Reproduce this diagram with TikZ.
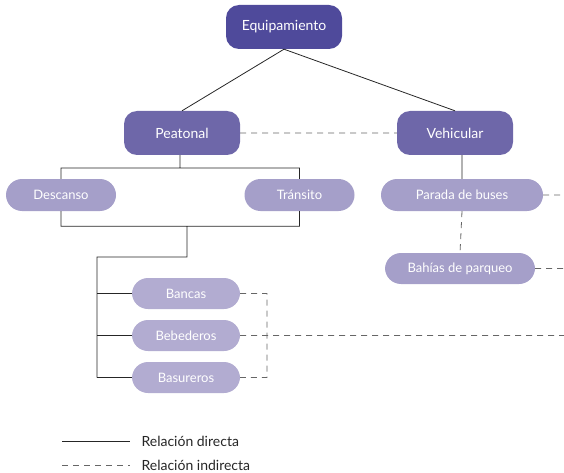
\documentclass[tikz,border=0pt]{standalone}
\usepackage{fontspec}
\setmainfont{Lato}
\usepackage{tikz}
\usetikzlibrary{positioning}
\definecolor{moradoA}{HTML}{4F4A9B}
\definecolor{moradoB}{HTML}{6E67A9}
\definecolor{moradoC}{HTML}{A59FC9}
\definecolor{moradoD}{HTML}{B2ACD1}
\tikzset{
    nivelA/.style={fill=moradoA, text=white, rounded corners=13pt,
        minimum width=116pt, minimum height=44pt, font=\fontsize{14}{16}\selectfont},
    nivelB/.style={nivelA, fill=moradoB},
    nivelC/.style={fill=moradoC, text=white, rounded corners=16pt,
        minimum width=110pt, minimum height=32pt, font=\fontsize{13}{15}\selectfont},
    nivelD/.style={nivelC, fill=moradoD, minimum width=108pt, minimum height=31pt},
    directa/.style={draw=black!85, line width=0.8pt},
    indirecta/.style={draw=black!60, line width=0.8pt, dash pattern=on 6pt off 5pt}
}

\begin{document}
\begin{tikzpicture}[x=1pt,y=-1pt]
	\useasboundingbox (0,0) rectangle (564,473);
	\node[nivelA] at (284, 27) (equip) {Equipamiento};
	\node[nivelB] at (182, 133) (peat) {Peatonal};
	\node[nivelB] at (455, 133) (vehi) {Vehicular};
	\node[nivelC] at (61, 195) (desc) {Descanso};
	\node[nivelC] at (299.5, 195) (trans) {Tránsito};
	\node[nivelC, minimum width=162pt] at (462, 195) (parada) {Parada de buses};
	\node[nivelC, minimum width=150pt, minimum height=31pt] at (460, 268.5) (bahias) {Bahías de parqueo};
	\node[nivelD] at (186, 293.5) (bancas) {Bancas};
	\node[nivelD] at (186, 335.5) (bebe) {Bebederos};
	\node[nivelD] at (186, 377.5) (basu) {Basureros};
	% uniones
	\coordinate (u1) at (180, 168);
	\coordinate (u2) at (187, 226);
	\coordinate (u3) at (97, 257);
	\coordinate (u4) at (267, 294);
	\coordinate (fin1) at (564, 195);
	\coordinate (fin2) at (564, 268.5);
	\coordinate (fin3) at (564, 335.5);
	\draw[directa]
	(equip.south) -- (peat.north)
	(equip.south) -- (vehi.north)
	(peat.south -| u1) -- (u1)
	(u1) -| (desc.north)
	(u1) -| (trans.north)
	(desc.south) -- ++(0,15) -| (trans.south)
	(u2) |- (u3) -- (u3 |- basu)
	(u3 |- bancas) -- (bancas.west)
	(u3 |- bebe) -- (bebe.west)
	(u3 |- basu) -- (basu.west)
	(vehi.south -| parada.north) -- (parada.north);
	\draw[indirecta]
	(peat.east) -- (vehi.west)
	(parada.south) -- (bahias.north)
	(parada.east) -- (fin1)
	(bahias.east) -- (fin2)
	(bebe.east) -- (fin3)
	(bancas.east) -| (u4) |- (basu.east);
	% leyenda
	\coordinate (l1) at (62, 441);
	\coordinate (l2) at (62, 465);
	\node[anchor=west, text=black!85, font=\fontsize{14}{16}\selectfont] at (138, 441) (ldir) {Relación directa};
	\node[anchor=west, text=black!85, font=\fontsize{14}{16}\selectfont] at (138, 465) (lind) {Relación indirecta};
	\draw[directa] (l1) -- ([xshift=-8pt]ldir.west);
	\draw[indirecta] (l2) -- ([xshift=-8pt]lind.west);
\end{tikzpicture}
\end{document}
